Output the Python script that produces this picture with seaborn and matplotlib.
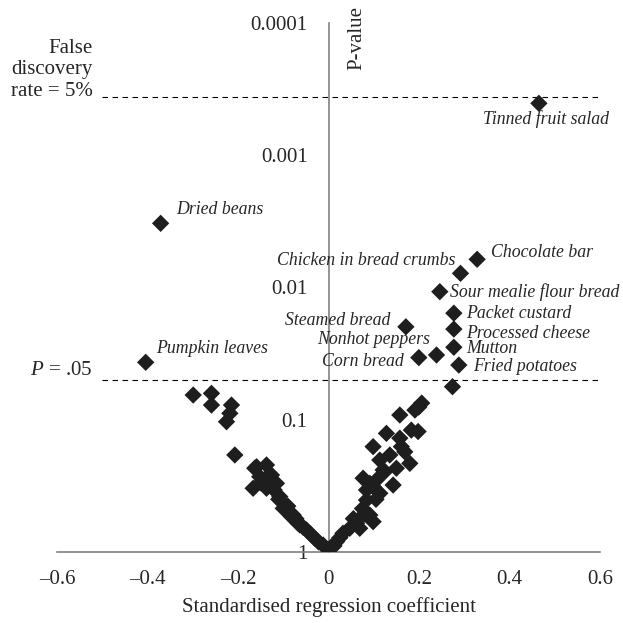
import matplotlib
matplotlib.use("Agg")
import matplotlib.pyplot as plt
import seaborn as sns
import pandas as pd
from matplotlib.ticker import FixedLocator, NullLocator, FixedFormatter

# ---- data ----
labeled_names = ["Tinned fruit salad", "Dried beans", "Chocolate bar", "Chicken in bread crumbs",
                 "Sour mealie flour bread", "Packet custard", "Processed cheese", "Mutton",
                 "Fried potatoes", "Steamed bread", "Nonhot peppers", "Corn bread", "Pumpkin leaves"]
labeled_coef = [0.465, -0.371, 0.3285, 0.2917, 0.246, 0.277, 0.277, 0.277, 0.288, 0.171, 0.2387, 0.1996, -0.404]
labeled_p = [0.000408, 0.00329, 0.00615, 0.00785, 0.0108, 0.0157, 0.0207, 0.0284, 0.0387, 0.0199, 0.0325, 0.0340, 0.0369]

other_coef = [-0.299, -0.2586, -0.2586, -0.2144, -0.218, -0.2254, -0.207, -0.163, -0.159, -0.137, -0.126,
              -0.1666, -0.115, -0.137, -0.1076, -0.100, -0.093, -0.082, -0.078, -0.067, -0.0634, -0.0486,
              -0.0303, -0.012, -0.001, -0.152, -0.150, -0.140, -0.120, -0.110, -0.090, -0.072, -0.056, -0.040, -0.022,
              0.274, 0.206, 0.191, 0.1996, 0.1576, 0.128, 0.0986, 0.1576, 0.183, 0.198, 0.1686, 0.1797,
              0.150, 0.1244, 0.106, 0.0765, 0.0913, 0.1428, 0.0986, 0.084, 0.0913, 0.0986, 0.0765, 0.0619,
              0.047, 0.032, 0.0177, 0.003, 0.1134, 0.084, 0.069, 0.161, 0.1207, 0.1355, 0.1134, 0.012, 0.025, 0.055, 0.075, 0.105]
other_p = [0.0652, 0.0633, 0.0776, 0.0776, 0.0896, 0.1037, 0.185, 0.233, 0.227, 0.220, 0.262,
           0.330, 0.303, 0.330, 0.382, 0.468, 0.482, 0.541, 0.526, 0.607, 0.625, 0.682,
           0.788, 0.885, 0.966, 0.270, 0.300, 0.280, 0.340, 0.400, 0.450, 0.560, 0.650, 0.730, 0.840,
           0.0564, 0.075, 0.0847, 0.0803, 0.0923, 0.127, 0.160, 0.138, 0.120, 0.123, 0.175, 0.214,
           0.233, 0.247, 0.286, 0.277, 0.303, 0.312, 0.321, 0.405, 0.526, 0.590, 0.526, 0.607,
           0.662, 0.722, 0.836, 0.949, 0.360, 0.340, 0.662, 0.160, 0.240, 0.185, 0.202, 0.900, 0.780, 0.560, 0.470, 0.400]

x_ticks = [-0.6, -0.4, -0.2, 0, 0.2, 0.4, 0.6]
x_ticklabels = ["\u20130.6", "\u20130.4", "\u20130.2", "0", "0.2", "0.4", "0.6"]
y_ticks = [0.0001, 0.001, 0.01, 0.1, 1]
y_ticklabels = ["0.0001", "0.001", "0.01", "0.1", "1"]
fdr_p = 0.000368
sig_p = 0.05

# label offsets in points (dx, dy, ha)
label_offsets = {
    "Tinned fruit salad": (5, -11, "center"),
    "Dried beans": (11.5, 10, "left"),
    "Chocolate bar": (10, 5, "left"),
    "Chicken in bread crumbs": (-4, 9, "right"),
    "Sour mealie flour bread": (7, 0, "left"),
    "Packet custard": (8.6, 0, "left"),
    "Processed cheese": (8.6, -3, "left"),
    "Mutton": (8.6, -1, "left"),
    "Fried potatoes": (10, -1, "left"),
    "Steamed bread": (-11.5, 4.3, "right"),
    "Nonhot peppers": (-5, 11.5, "right"),
    "Corn bread": (-11, -3, "right"),
    "Pumpkin leaves": (7.7, 10, "left"),
}

df = pd.DataFrame({"coef": other_coef + labeled_coef, "p": other_p + labeled_p})

sns.set_style("white")
plt.rcParams["font.family"] = ["Liberation Serif", "DejaVu Serif"]
plt.rcParams["mathtext.fontset"] = "custom"
plt.rcParams["mathtext.it"] = "Liberation Serif:italic"
plt.rcParams["mathtext.rm"] = "Liberation Serif"

fig = plt.figure(figsize=(6.23, 6.23), dpi=100)
ax = fig.add_axes([57/623, 71/623, 543/623, 529.5/623])

sns.scatterplot(data=df, x="coef", y="p", marker="D", s=78, color="#1e1e1e",
                edgecolor="none", linewidth=0, ax=ax, zorder=3)

ax.set_yscale("log")
ax.set_ylim(1, 0.0001)
ax.set_xlim(-0.6, 0.6)

ax.spines["left"].set_position(("data", 0))
ax.spines["right"].set_visible(False)
ax.spines["top"].set_visible(False)
for sp in ("left", "bottom"):
    ax.spines[sp].set_color("#808080")
    ax.spines[sp].set_linewidth(1.2)

ax.xaxis.set_major_locator(FixedLocator(x_ticks))
ax.xaxis.set_major_formatter(FixedFormatter(x_ticklabels))
ax.yaxis.set_major_locator(FixedLocator(y_ticks))
ax.yaxis.set_major_formatter(FixedFormatter(y_ticklabels))
ax.yaxis.set_minor_locator(NullLocator())
ax.tick_params(axis="x", direction="in", length=5, width=1, color="#404040", labelsize=15, pad=13)
ax.tick_params(axis="y", direction="out", length=5, width=1, color="#404040", labelsize=15, pad=10)

ax.set_xlabel("Standardised regression coefficient", fontsize=15, labelpad=6)
ax.set_ylabel("P-value", fontsize=15, rotation=90, va="center", ha="center")
ax.yaxis.set_label_coords(0.553, 0.97)

# threshold lines
ax.hlines([fdr_p, sig_p], -0.5, 0.6, colors="black", linewidth=0.8, linestyles=(0, (5, 4)), zorder=2)
ax.annotate("False\ndiscovery\nrate = 5%", xy=(-0.5, fdr_p), xytext=(-7, 20), textcoords="offset points",
            ha="right", va="center", fontsize=15, linespacing=1.17, multialignment="right",
            annotation_clip=False)
ax.annotate("$P$ = .05", xy=(-0.5, sig_p), xytext=(-7, 6.5), textcoords="offset points",
            ha="right", va="center", fontsize=15, annotation_clip=False)

for name, cx, cp in zip(labeled_names, labeled_coef, labeled_p):
    dx, dy, ha = label_offsets[name]
    ax.annotate(name, xy=(cx, cp), xytext=(dx, dy), textcoords="offset points",
                ha=ha, va="center", fontsize=12.8, style="italic", annotation_clip=False)

ax.grid(False)
fig.savefig("out.png", dpi=100)
